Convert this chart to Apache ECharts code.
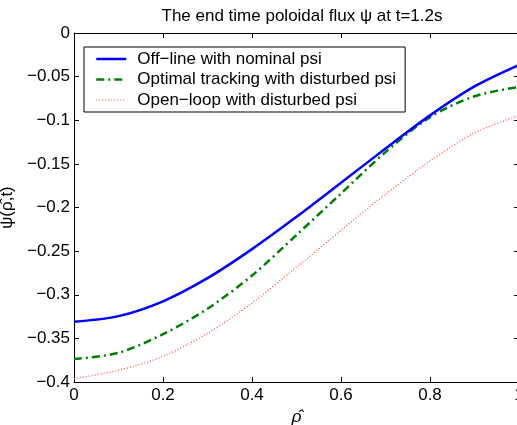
<!DOCTYPE html>
<html>
<head>
<meta charset="utf-8">
<script src="https://cdn.jsdelivr.net/npm/echarts@6/dist/echarts.min.js"></script>
<style>html,body{margin:0;padding:0;background:#fff}#c{width:517px;height:425px}</style>
</head>
<body>
<div id="c"></div>
<script>
var rho = [0, 0.1, 0.2, 0.3, 0.4, 0.5, 0.6, 0.7, 0.8, 0.9, 1.0];
var offline = [-0.331, -0.3245, -0.3075, -0.281, -0.2477, -0.2107, -0.1717, -0.1324, -0.0944, -0.0612, -0.0366];
var tracking = [-0.3737, -0.3665, -0.3452, -0.316, -0.278, -0.2315, -0.184, -0.1365, -0.0965, -0.0725, -0.0618];
var openloop = [-0.3962, -0.3866, -0.3706, -0.3442, -0.3095, -0.2684, -0.2261, -0.1848, -0.1467, -0.1145, -0.0945];
var names = ['Off\u2212line with nominal psi', 'Optimal tracking with disturbed psi', 'Open\u2212loop with disturbed psi'];
var titleText = 'The end time poloidal flux \u03c8 at t=1.2s';

function pairs(ys){ return rho.map(function(x,i){ return [x, ys[i]]; }); }
function fmt(v){ var n = parseFloat(v.toFixed(3)); return n === 0 ? '0' : String(n).replace('-', '\u2212'); }

var FONT = 'Liberation Sans, Arial, Helvetica, sans-serif';
var lbl = {color:'#000', fontFamily:FONT, fontSize:17};
var noSym = {color:'rgba(0,0,0,0)', opacity:0, borderWidth:0};
var chart = echarts.init(document.getElementById('c'), null, {renderer:'canvas'});
chart.setOption({
  animation:false,
  backgroundColor:'#fff',
  title:{text:titleText, left:297, top:3, textAlign:'center',
    textStyle:{fontFamily:FONT, fontSize:17, fontWeight:'normal', color:'#000'}},
  grid:{left:74, top:33, right:-2, bottom:43, containLabel:false, outerBoundsMode:'none'},
  legend:{
    left:84, top:47, orient:'vertical',
    backgroundColor:'#fff', borderColor:'#000', borderWidth:1, borderRadius:0,
    padding:[2,9,2,11], itemGap:0.5, itemWidth:30, itemHeight:14,
    textStyle:{fontFamily:FONT, fontSize:17, color:'#000', lineHeight:20, padding:[0,0,0,6]},
    data:[
      {name:names[0], itemStyle:noSym, lineStyle:{color:'#0000ff', width:2.5, type:'solid'}},
      {name:names[1], itemStyle:noSym, lineStyle:{color:'#008000', width:2.5, type:[8,4,2,4]}},
      {name:names[2], itemStyle:noSym, lineStyle:{color:'#ff4040', width:1.2, type:[1,2]}}
    ]
  },
  xAxis:[
    {type:'value', min:0, max:1, interval:0.2, position:'bottom',
      name:'\u03c1\u0302', nameLocation:'middle', nameGap:21,
      nameTextStyle:{fontFamily:FONT, fontSize:17, fontStyle:'italic', color:'#000'},
      axisLine:{show:true, onZero:false, lineStyle:{color:'#000', width:1}},
      axisTick:{show:true, inside:true, length:5, lineStyle:{color:'#000'}},
      axisLabel:Object.assign({margin:5, formatter:fmt, showMaxLabel:true, showMinLabel:true}, lbl),
      splitLine:{show:false}},
    {type:'value', min:0, max:1, interval:0.2, position:'top',
      axisLine:{show:true, onZero:false, lineStyle:{color:'#000', width:1}},
      axisTick:{show:true, inside:true, length:5, lineStyle:{color:'#000'}},
      axisLabel:{show:false}, splitLine:{show:false}}
  ],
  yAxis:[
    {type:'value', min:-0.4, max:0, interval:0.05, position:'left',
      name:'\u03c8(\u03c1\u0302,t)', nameLocation:'middle', nameGap:57,
      nameTextStyle:{fontFamily:FONT, fontSize:17, color:'#000'},
      axisLine:{show:true, onZero:false, lineStyle:{color:'#000', width:1}},
      axisTick:{show:true, inside:true, length:5, lineStyle:{color:'#000'}},
      axisLabel:Object.assign({margin:4, formatter:fmt, showMaxLabel:true, showMinLabel:true}, lbl),
      splitLine:{show:false}},
    {type:'value', min:-0.4, max:0, interval:0.05, position:'right',
      axisLine:{show:true, onZero:false, lineStyle:{color:'#000', width:1}},
      axisTick:{show:true, inside:true, length:5, lineStyle:{color:'#000'}},
      axisLabel:{show:false}, splitLine:{show:false}}
  ],
  series:[
    {name:names[0], type:'line', data:pairs(offline), smooth:0.3, symbol:'none', z:4,
      lineStyle:{color:'#0000ff', width:2.5, type:'solid'}, itemStyle:{color:'#0000ff'}},
    {name:names[1], type:'line', data:pairs(tracking), smooth:0.3, symbol:'none', z:3,
      lineStyle:{color:'#008000', width:2.5, type:[8,4,2,4]}, itemStyle:{color:'#008000'}},
    {name:names[2], type:'line', data:pairs(openloop), smooth:0.3, symbol:'none', z:2,
      lineStyle:{color:'#ff4040', width:1.2, type:[1,2]}, itemStyle:{color:'#ff4040'}}
  ]
});
</script>
</body>
</html>
